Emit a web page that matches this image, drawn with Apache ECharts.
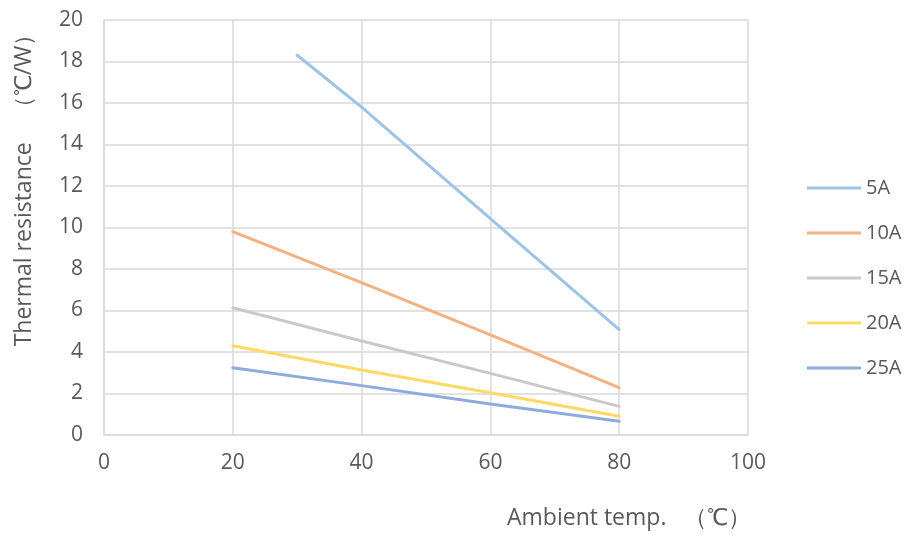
<!DOCTYPE html>
<html><head><meta charset="utf-8">
<script src="https://cdn.jsdelivr.net/npm/echarts@6/dist/echarts.min.js"></script>
<style>html,body{margin:0;padding:0;background:#fff}#c{width:906px;height:535px}</style>
</head><body><div id="c"></div>
<script>
const seriesNames = ['5A', '10A', '15A', '20A', '25A'];
const colors = ['#9DC3E6', '#F4B183', '#C9C9C9', '#FFD966', '#8FAADC'];
const xs5 = [30, 40, 60, 80];
const xsOther = [20, 40, 60, 80];
const v5A = [18.3, 15.8, 10.43, 5.08];
const v10A = [9.8, 7.34, 4.82, 2.28];
const v15A = [6.13, 4.53, 2.97, 1.38];
const v20A = [4.30, 3.13, 2.04, 0.90];
const v25A = [3.24, 2.38, 1.49, 0.66];
const xTicks = [0, 20, 40, 60, 80, 100];
const yTicks = [0, 2, 4, 6, 8, 10, 12, 14, 16, 18, 20];
const allValues = [v5A, v10A, v15A, v20A, v25A];

const font = 'Open Sans';
const textColor = '#595959';
const chart = echarts.init(document.getElementById('c'));
const series = seriesNames.map((n, i) => {
  const xs = i === 0 ? xs5 : xsOther;
  return {
    name: n, type: 'line', symbol: 'none', smooth: false,
    data: allValues[i].map((v, k) => [xs[k], v]),
    lineStyle: { width: 3, color: colors[i], cap: 'round' },
    itemStyle: { color: colors[i] }
  };
});
chart.setOption({
  animation: false,
  textStyle: { fontFamily: font },
  grid: { left: 104, right: 158, top: 20, bottom: 100, containLabel: false },
  title: { text: 'Ambient temp.   （℃）', left: 502, top: 502,
    textStyle: { fontFamily: font, fontSize: 23, fontWeight: 'normal', color: textColor } },
  legend: {
    orient: 'vertical', left: 807, top: 178, padding: 0,
    itemWidth: 54, itemHeight: 14, itemGap: 25,
    icon: 'path://M0,6 L54,6 L54,9 L0,9 Z',
    textStyle: { fontFamily: font, fontSize: 20, color: textColor },
    data: seriesNames.map((n, i) => ({ name: n, itemStyle: { color: colors[i] } }))
  },
  xAxis: {
    type: 'value', min: xTicks[0], max: xTicks[xTicks.length - 1], interval: 20,
    axisLine: { show: true, lineStyle: { color: '#d9d9d9', width: 1.5 } },
    axisTick: { show: false },
    axisLabel: { color: textColor, fontSize: 21, margin: 18, fontFamily: font },
    splitLine: { show: true, lineStyle: { color: '#d9d9d9', width: 1.5 } }
  },
  yAxis: {
    type: 'value', min: yTicks[0], max: yTicks[yTicks.length - 1], interval: 2,
    name: 'Thermal resistance　（℃/W）', nameLocation: 'middle', nameGap: 68,
    nameTextStyle: { color: textColor, fontSize: 23, fontFamily: font, padding: [0, 0, 0, 86] },
    axisLine: { show: true, lineStyle: { color: '#d9d9d9', width: 1.5 } },
    axisTick: { show: false },
    axisLabel: { color: textColor, fontSize: 21, margin: 21, fontFamily: font },
    splitLine: { show: true, lineStyle: { color: '#d9d9d9', width: 1.5 } }
  },
  series: series
});
</script></body></html>
